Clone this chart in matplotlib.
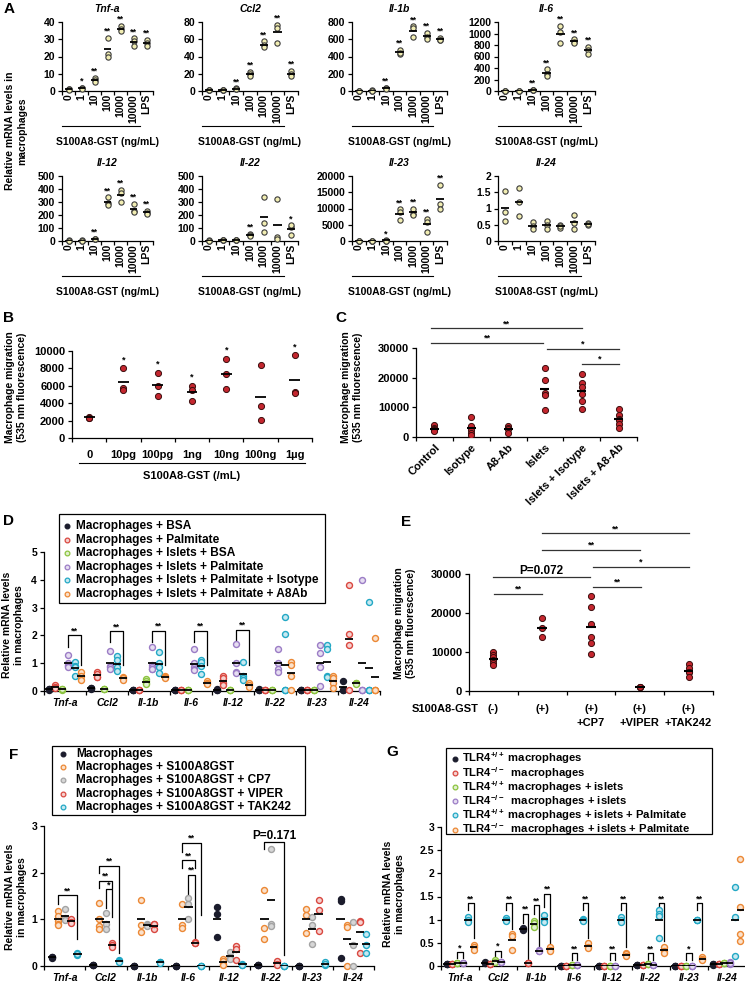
import matplotlib.pyplot as plt
import matplotlib.colors as mcolors
import matplotlib.transforms as mtransforms
from matplotlib.lines import Line2D
from matplotlib.patches import Rectangle
import numpy as np

plt.rcParams['font.family'] = ['Liberation Sans', 'DejaVu Sans']
plt.rcParams['font.weight'] = 'bold'
plt.rcParams['mathtext.fontset'] = 'custom'
plt.rcParams['mathtext.rm'] = 'Liberation Sans:bold'
plt.rcParams['mathtext.bf'] = 'Liberation Sans:bold'
plt.rcParams['mathtext.it'] = 'Liberation Sans:bold:italic'
plt.rcParams['axes.linewidth'] = 0.9

# ---------------- data ----------------
# A: relative mRNA vs S100A8-GST dose
a_doses = ['0', '1', '10', '100', '1000', '10000', 'LPS']
a_tnfa = [[1.2, 1.0, 0.8], [2.0, 1.5, 1.2], [7.6, 6.2, 5.5], [31, 21.5, 20],
          [37.9, 36, 34.5], [30.6, 28.7, 26.1], [29.5, 27.8, 25.8]]
a_ccl2 = [[1.2, 1.0, 0.8], [1.0, 0.6, 0.9], [3.0, 2.4, 2.0], [22.5, 20, 17.5],
          [57.4, 53.5, 50.7], [76.9, 73, 56.2], [23.4, 19.5, 17.2]]
a_il1b = [[5, 4, 3], [6, 4, 5], [38, 30, 24], [480, 430, 440],
          [749, 730, 624], [671, 624, 601], [613, 593, 596]]
a_il6 = [[5, 4, 3], [6, 4, 5], [18, 14, 12], [380, 293, 264],
         [1136, 1018, 843], [901, 860, 843], [773, 714, 644]]
a_il12 = [[4, 3, 2], [4, 3, 3], [18, 14, 12], [335, 289, 276],
          [392, 371, 302], [285, 230, 222], [230, 218, 210]]
a_il22 = [[4, 3, 2], [10, 8, 6], [10, 7, 5], [55, 45, 38],
          [335, 139, 70], [320, 30, 15], [110, 120, 44]]
a_il23 = [[100, 80, 60], [100, 80, 60], [200, 150, 120], [9700, 9000, 6400],
          [10000, 8450, 7900], [6900, 5900, 2800], [17200, 11500, 10000]]
a_il24 = [[1.53, 0.89, 0.62], [1.62, 1.21, 0.76], [0.6, 0.46, 0.36], [0.62, 0.5, 0.37],
          [0.5, 0.4, 0.45], [0.81, 0.55, 0.36], [0.55, 0.5, 0.52]]
sig_tnfa = ['', '*', '**', '**', '**', '**', '**']
sig_std = ['', '', '**', '**', '**', '**', '**']
sig_il22 = ['', '', '', '**', '', '', '*']
sig_il23 = ['', '', '*', '**', '**', '**', '**']
sig_none = [''] * 7

# B: migration vs S100A8-GST
b_doses = ['0', '10pg', '100pg', '1ng', '10ng', '100ng', '1\u00b5g']
b_vals = [[2450, 2350, 2300], [7990, 5700, 5510], [7490, 5970, 4830], [5970, 5510, 4300],
          [9130, 7300, 5590], [8400, 3650, 2050], [9510, 5320, 5130]]
b_sig = ['', '*', '*', '*', '*', '', '*']

# C: migration with islets / antibody
c_groups = ['Control', 'Isotype', 'A8-Ab', 'Islets', 'Islets + Isotype', 'Islets + A8-Ab']
c_vals = [[3900, 3200, 2800, 2300, 2000], [6700, 3600, 2500, 1500, 600],
          [3600, 3000, 2600, 1200], [23400, 19300, 15000, 14300, 9200],
          [21300, 18200, 16900, 14600, 12100, 9400], [9400, 7300, 6200, 5600, 4500, 3100]]

# genes shared by D, F, G
genes = ['Tnf-a', 'Ccl2', 'Il-1b', 'Il-6', 'Il-12', 'Il-22', 'Il-23', 'Il-24']

# D: co-culture with islets / palmitate
d_labels = ['Macrophages + BSA', 'Macrophages + Palmitate', 'Macrophages + Islets + BSA',
            'Macrophages + Islets + Palmitate', 'Macrophages + Islets + Palmitate + Isotype',
            'Macrophages + Islets + Palmitate + A8Ab']
d_bsa = [[0.06, 0.08, 0.05], [0.1, 0.12, 0.08], [0.04, 0.05, 0.03], [0.02, 0.03, 0.02],
         [0.05, 0.06, 0.04], [0.06, 0.05, 0.04], [0.02, 0.03, 0.02], [0.35, 0.05, 0.02]]
d_palm = [[0.2, 0.15, 0.1], [0.68, 0.6, 0.52, 0.5], [0.05, 0.04, 0.03], [0.03, 0.03, 0.02],
          [0.55, 0.45, 0.3, 0.2], [0.03, 0.02, 0.02], [0.03, 0.02, 0.02], [3.8, 2.05, 1.65, 0.02]]
d_isl = [[0.07, 0.05, 0.06], [0.08, 0.07, 0.06], [0.42, 0.36, 0.3, 0.25], [0.03, 0.03, 0.02],
         [0.02, 0.02, 0.02], [0.03, 0.02, 0.02], [0.02, 0.02, 0.02], [0.3, 0.27, 0.24]]
d_isl_palm = [[1.3, 1.0, 0.95, 0.9, 0.85], [1.45, 0.9, 0.85, 0.8], [1.6, 0.95, 0.85, 0.8, 0.8],
              [1.5, 1.0, 0.85, 0.8, 0.75], [1.7, 1.0, 0.7, 0.65], [1.5, 1.0, 0.8, 0.7],
              [1.65, 1.38, 0.87, 0.17], [4.0, 0.02, 0.02, 0.02]]
d_isotype = [[1.05, 0.9, 0.85, 0.55], [1.25, 1.1, 0.85, 0.72], [1.4, 1.0, 0.85, 0.65],
             [1.1, 1.05, 0.9, 0.6], [1.05, 0.55, 0.45, 0.4], [2.65, 2.05, 0.02, 0.02, 0.02],
             [1.65, 1.5, 0.55, 0.5], [3.2, 0.02, 0.02, 0.02]]
d_a8ab = [[0.7, 0.55, 0.4], [0.5, 0.45, 0.4], [0.55, 0.5, 0.45], [0.35, 0.3, 0.25],
          [0.28, 0.2, 0.15], [1.05, 0.95, 0.55, 0.02], [0.55, 0.45, 0.3, 0.1], [1.9, 0.02, 0.02, 0.02]]

# E: migration with inhibitors
e_groups = ['(-)', '(+)', '(+)\n+CP7', '(+)\n+VIPER', '(+)\n+TAK242']
e_vals = [[10000, 9200, 8600, 7900, 7300, 6700], [18700, 16200, 13800],
          [24300, 21600, 17200, 13800, 12200, 9500], [1100, 1000, 900],
          [6800, 5900, 5000, 4800, 3700]]

# F: S100A8-GST with inhibitors
f_labels = ['Macrophages', 'Macrophages + S100A8GST', 'Macrophages + S100A8GST + CP7',
            'Macrophages + S100A8GST + VIPER', 'Macrophages + S100A8GST + TAK242']
f_mac = [[0.2, 0.19, 0.18], [0.03, 0.02, 0.02], [0.01, 0.01, 0.01], [0.01, 0.01, 0.01],
         [1.27, 1.12, 0.62], [0.03, 0.02, 0.02], [0.01, 0.01, 0.01], [1.44, 1.4, 0.17]]
f_s100 = [[1.18, 1.08, 0.96, 0.9, 0.88], [1.36, 1.0, 0.86, 0.79], [1.41, 0.88, 0.72],
          [1.32, 0.88, 0.82], [0.15, 0.1, 0.05, 0.02], [1.63, 0.82, 0.57],
          [1.22, 1.1, 0.7], [0.88, 0.83, 0.01]]
f_cp7 = [[1.22, 1.02, 0.98], [1.14, 0.91, 0.8], [0.9, 0.88, 0.85], [1.45, 1.33, 1.0],
         [0.3, 0.2, 0.15], [2.5, 0.9, 0.86], [1.05, 0.88, 0.47], [0.95, 0.45, 0.01]]
f_viper = [[1.0, 0.95, 0.93], [0.5, 0.45, 0.41], [0.9, 0.8, 0.9], [0.51, 0.5, 0.49],
           [0.42, 0.36, 0.12], [0.1, 0.05, 0.03], [1.42, 1.2, 0.75], [0.97, 0.95, 0.28]]
f_tak = [[0.27, 0.23, 0.25], [0.12, 0.1, 0.09], [0.09, 0.08, 0.07], [0.01, 0.01, 0.01],
         [0.05, 0.02, 0.03], [0.01, 0.01, 0.01], [0.08, 0.02, 0.04], [0.68, 0.45, 0.27]]

# G: TLR4 wild type vs knockout
g_labels = ['TLR4$^{+/+}$ macrophages', 'TLR4$^{-/-}$  macrophages',
            'TLR4$^{+/+}$ macrophages + islets', 'TLR4$^{-/-}$  macrophages + islets',
            'TLR4$^{+/+}$ macrophages + islets + Palmitate',
            'TLR4$^{-/-}$  macrophages + islets + Palmitate']
g_wt = [[0.05, 0.04, 0.05], [0.07, 0.06, 0.08], [0.83, 0.8, 0.78], [0.01, 0.01, 0.01],
        [0.01, 0.01, 0.01], [0.02, 0.02, 0.02], [0.01, 0.01, 0.01], [0.04, 0.03, 0.04]]
g_ko = [[0.04, 0.04, 0.04], [0.05, 0.05, 0.05], [0.07, 0.07, 0.07], [0.01, 0.01, 0.01],
        [0.01, 0.01, 0.01], [0.02, 0.02, 0.02], [0.01, 0.01, 0.01], [0.05, 0.05, 0.05]]
g_wt_isl = [[0.06, 0.06, 0.06], [0.1, 0.12, 0.09], [0.98, 0.92, 0.85], [0.02, 0.02, 0.02],
            [0.01, 0.01, 0.01], [0.05, 0.05, 0.05], [0.01, 0.01, 0.01], [0.07, 0.07, 0.07]]
g_ko_isl = [[0.06, 0.06, 0.06], [0.08, 0.08, 0.08], [0.35, 0.33, 0.32], [0.02, 0.02, 0.02],
            [0.01, 0.01, 0.01], [0.03, 0.03, 0.03], [0.01, 0.01, 0.01], [0.08, 0.05, 0.06]]
g_wt_palm = [[1.05, 1.0, 0.95], [1.03, 1.0, 0.97], [1.1, 1.0, 0.95], [1.02, 1.0, 0.98],
             [1.05, 1.0, 0.95], [1.2, 1.12, 1.08, 0.6], [1.0, 1.0, 1.0], [1.7, 1.05, 0.22]]
g_ko_palm = [[0.45, 0.42, 0.35], [0.7, 0.65, 0.35], [0.4, 0.35, 0.33], [0.5, 0.42, 0.38],
             [0.27, 0.25, 0.22], [0.42, 0.32, 0.28], [0.2, 0.15, 0.12], [2.3, 1.27, 0.68, 0.55]]

# significance brackets: (gene, series left, series right, top, left leg end, right leg end, label)
d_brackets = [(0, 3, 5, 2.0, 1.6, 0.93, '**'), (1, 3, 5, 2.15, 1.75, 0.93, '**'),
              (2, 3, 5, 2.17, 1.75, 0.93, '**'), (3, 3, 5, 2.17, 1.75, 0.93, '**'),
              (4, 3, 5, 2.2, 1.85, 0.93, '**')]
f_brackets = [(0, 1, 4, 1.52, 1.33, 0.57, '**'), (1, 1, 4, 2.15, 2.0, 0.27, '**'),
              (1, 1, 3, 1.83, 1.68, 1.68, '**'), (1, 2, 3, 1.64, 1.25, 1.05, '*'),
              (3, 1, 4, 2.64, 2.45, 1.09, '**'), (3, 1, 3, 2.27, 2.1, 2.1, '**'),
              (3, 2, 3, 1.95, 1.55, 0.6, '**'), (5, 1, 4, 2.66, 2.5, 0.24, 'P=0.171')]
g_brackets = [(0, 2, 3, 0.3, 0.18, 0.18, '*'), (0, 4, 5, 1.35, 1.2, 0.6, '**'),
              (1, 2, 3, 0.33, 0.2, 0.2, '*'), (1, 4, 5, 1.35, 1.2, 0.8, '**'),
              (2, 0, 1, 1.13, 0.92, 0.13, '**'), (2, 2, 3, 1.31, 1.13, 0.42, '**'),
              (2, 4, 5, 1.56, 1.28, 0.5, '**'), (3, 2, 3, 0.27, 0.14, 0.14, '**'),
              (3, 4, 5, 1.35, 1.2, 0.6, '**'), (4, 2, 3, 0.27, 0.14, 0.14, '**'),
              (4, 4, 5, 1.35, 1.2, 0.4, '**'), (5, 2, 3, 0.27, 0.14, 0.14, '**'),
              (5, 4, 5, 1.35, 1.3, 0.55, '**'), (6, 2, 3, 0.27, 0.14, 0.14, '*'),
              (6, 4, 5, 1.35, 1.2, 0.35, '**')]

# ---------------- layout helpers (pixel coordinates) ----------------
W, H = 745, 985
fig = plt.figure(figsize=(W / 100, H / 100), dpi=100)


def add_ax(x0, y0, x1, y1):
    return fig.add_axes([x0 / W, 1 - y1 / H, (x1 - x0) / W, (y1 - y0) / H])


def ftext(x, y, s, **kw):
    kw.setdefault('ha', 'center')
    kw.setdefault('va', 'center')
    return fig.text(x / W, 1 - y / H, s, **kw)


def light(c, f=0.7):
    r, g, b = mcolors.to_rgb(c)
    return (r + (1 - r) * f, g + (1 - g) * f, b + (1 - b) * f)


def style(ax, fs=7.5):
    ax.spines['top'].set_visible(False)
    ax.spines['right'].set_visible(False)
    ax.tick_params(axis='y', direction='out', length=3, width=0.9, labelsize=fs, pad=2)
    ax.tick_params(axis='x', which='both', direction='out', width=0.9, labelsize=fs)


def cat_x(ax, labels, left=-0.5, **kw):
    n = len(labels)
    ax.set_xlim(left, n - 0.5)
    ax.set_xticks(range(n))
    ax.set_xticklabels(labels, **kw)
    ax.set_xticks(np.arange(-0.5, n), minor=True)
    ax.tick_params(axis='x', which='major', length=0)
    ax.tick_params(axis='x', which='minor', length=3)


def bracket(ax, x0, x1, top, b0, b1, label, fs=6.5):
    ax.plot([x0, x0, x1, x1], [b0, top, top, b1], color='black', lw=0.9, clip_on=False)
    ax.text((x0 + x1) / 2, top, label, ha='center', va='bottom', fontsize=fs)


def hline(ax, x0, x1, y, label, fs=6.5):
    ax.plot([x0, x1], [y, y], color='#333333', lw=0.9, clip_on=False)
    ax.text((x0 + x1) / 2, y, label, ha='center', va='bottom', fontsize=fs)


# ---------------- panel A ----------------
row1, row2 = (22, 91), (176, 241)
cols = [(62, 153), (202, 298), (352, 447), (498, 595)]
a_panels = [
    (cols[0], row1, 'Tnf-a', a_tnfa, sig_tnfa, 40, 10),
    (cols[1], row1, 'Ccl2', a_ccl2, sig_std, 80, 20),
    (cols[2], row1, 'Il-1b', a_il1b, sig_std, 800, 200),
    (cols[3], row1, 'Il-6', a_il6, sig_std, 1200, 200),
    (cols[0], row2, 'Il-12', a_il12, sig_std, 500, 100),
    (cols[1], row2, 'Il-22', a_il22, sig_il22, 500, 100),
    (cols[2], row2, 'Il-23', a_il23, sig_il23, 20000, 5000),
    (cols[3], row2, 'Il-24', a_il24, sig_none, 2, 0.5),
]
for (x0, x1), (y0, y1), title, vals, sig, ymax, step in a_panels:
    ax = add_ax(x0, y0, x1, y1)
    style(ax)
    for i, pts in enumerate(vals):
        ax.plot([i] * len(pts), pts, 'o', ms=3.8, mfc='#f1edb2', mec='#3a3a3a', mew=0.8,
                zorder=3, clip_on=False)
        ax.hlines(np.mean(pts), i - 0.3, i + 0.3, color='black', lw=1.3, zorder=4)
        if sig[i]:
            ax.annotate(sig[i], (i, max(pts)), xytext=(0, 1.5), textcoords='offset points',
                        ha='center', va='bottom', fontsize=6.5)
    cat_x(ax, a_doses, rotation=90)
    ax.tick_params(axis='x', which='major', pad=2)
    ax.set_ylim(0, ymax)
    ax.set_yticks(np.arange(0, ymax + step / 2, step))
    ax.yaxis.set_major_formatter('{x:g}')
    ftext((x0 + x1) / 2, y0 - 13, title, fontsize=7.5, style='italic')
    uy = y1 + 35
    tr = mtransforms.blended_transform_factory(ax.transData, fig.transFigure)
    ax.plot([-0.5, 5.5], [1 - uy / H] * 2, color='black', lw=0.8, transform=tr, clip_on=False)
    ftext((x0 + x1) / 2, uy + 16, 'S100A8-GST (ng/mL)', fontsize=7.5)

ftext(9, 9, 'A', fontsize=11)
ftext(16, 131, 'Relative mRNA levels in\nmacrophages', rotation=90, fontsize=7.5, linespacing=1.3)

# ---------------- panel B ----------------
ax = add_ax(72, 351, 312, 438)
style(ax, 8)
for i, pts in enumerate(b_vals):
    ax.plot([i] * len(pts), pts, 'o', ms=4.4, mfc='#c4262e', mec='#3b0d0d', mew=0.7, zorder=3)
    ax.hlines(np.mean(pts), i - 0.16, i + 0.16, color='black', lw=1.3, zorder=4)
    if b_sig[i]:
        ax.annotate(b_sig[i], (i, max(pts)), xytext=(0, 3), textcoords='offset points',
                    ha='center', va='bottom', fontsize=6.5)
cat_x(ax, b_doses)
ax.tick_params(axis='x', which='major', pad=9, labelsize=8)
ax.set_ylim(0, 10000)
ax.set_yticks(np.arange(0, 10001, 2000))
tr = mtransforms.blended_transform_factory(ax.transData, fig.transFigure)
ax.plot([-0.3, 6.3], [1 - 463 / H] * 2, color='black', lw=0.8, transform=tr, clip_on=False)
ftext(192, 476, 'S100A8-GST (/mL)', fontsize=8)
ftext(9, 318, 'B', fontsize=11)
ftext(16, 387, 'Macrophage migration\n(535 nm fluorescence)', rotation=90, fontsize=7.5,
      linespacing=1.3)

# ---------------- panel C ----------------
ax = add_ax(416, 348, 637, 437)
style(ax, 8)
for i, pts in enumerate(c_vals):
    ax.plot([i] * len(pts), pts, 'o', ms=4.4, mfc='#c4262e', mec='#3b0d0d', mew=0.7, zorder=3)
    ax.hlines(np.mean(pts), i - 0.12, i + 0.12, color='black', lw=1.5, zorder=4)
cat_x(ax, c_groups, left=-0.46, rotation=45, ha='right', rotation_mode='anchor')
ax.tick_params(axis='x', which='major', labelsize=8, pad=4)
ax.set_ylim(0, 30000)
ax.set_yticks([0, 10000, 20000, 30000])
hline(ax, -0.08, 4.0, 36700, '**')
hline(ax, -0.08, 2.95, 31700, '**')
hline(ax, 3.05, 5.0, 29700, '*')
hline(ax, 4.0, 5.0, 24600, '*')
ftext(341, 318, 'C', fontsize=11)
ftext(352, 387, 'Macrophage migration\n(535 nm fluorescence)', rotation=90, fontsize=7.5,
      linespacing=1.3)

# ---------------- grouped mRNA panels (D, F, G) ----------------
pal = {'black': '#1b1c2c', 'red': '#d9473f', 'green': '#8cc43f', 'purple': '#9b7cc6',
       'cyan': '#22a8c5', 'orange': '#ec8834', 'gray': '#a3a3a3'}


def face(c):
    return pal[c] if c == 'black' else light(pal[c], 0.55 if c == 'gray' else 0.75)


def group_panel(ax, series, colors, spacing, dash):
    n = len(series)
    for s, (vals, c) in enumerate(zip(series, colors)):
        off = (s - (n - 1) / 2) * spacing
        for g, pts in enumerate(vals):
            x = g + off
            ax.plot([x] * len(pts), pts, 'o', ms=4.3, mfc=face(c), mec=pal[c], mew=1.0,
                    zorder=3, clip_on=False)
            ax.hlines(np.mean(pts), x - dash, x + dash, color='black', lw=1.3, zorder=4)
    cat_x(ax, genes, style='italic')
    ax.tick_params(axis='x', which='major', pad=5, labelsize=7.5)
    return lambda s: (s - (n - 1) / 2) * spacing


def legend_box(labels, colors, box, mx, tx, y_first, dy, fs=8.6):
    x0, y0, x1, y1 = box
    fig.add_artist(Rectangle((x0 / W, 1 - y1 / H), (x1 - x0) / W, (y1 - y0) / H,
                             transform=fig.transFigure, facecolor='white',
                             edgecolor='black', lw=0.9, zorder=5))
    for i, (lab, c) in enumerate(zip(labels, colors)):
        y = y_first + i * dy
        fig.add_artist(Line2D([mx / W], [1 - y / H], transform=fig.transFigure, ls='none',
                              marker='o', ms=3.4, mfc=face(c), mec=pal[c], mew=0.9, zorder=6))
        ftext(tx, y, lab, ha='left', fontsize=fs, zorder=6)


# D
ax = add_ax(44, 552, 380, 691)
style(ax)
d_colors = ['black', 'red', 'green', 'purple', 'cyan', 'orange']
off = group_panel(ax, [d_bsa, d_palm, d_isl, d_isl_palm, d_isotype, d_a8ab], d_colors, 0.155, 0.1)
ax.set_ylim(0, 5)
ax.set_yticks(range(6))
for g, s0, s1, top, b0, b1, lab in d_brackets:
    bracket(ax, g + off(s0), g + off(s1), top, b0, b1, lab)
legend_box(d_labels, d_colors, (59, 514, 325, 603), 67, 76, 526, 13.6)
ftext(9, 521, 'D', fontsize=11)
ftext(13, 625, 'Relative mRNA levels\nin macrophages', rotation=90, fontsize=7.5,
      linespacing=1.3)

# ---------------- panel E ----------------
ax = add_ax(469, 574, 713, 691)
style(ax, 8)
for i, pts in enumerate(e_vals):
    ax.plot([i] * len(pts), pts, 'o', ms=4.4, mfc='#c4262e', mec='#3b0d0d', mew=0.7, zorder=3)
    ax.hlines(np.mean(pts), i - 0.1, i + 0.1, color='black', lw=1.5, zorder=4)
cat_x(ax, e_groups, va='top', linespacing=1.6)
ax.tick_params(axis='x', which='major', pad=9, labelsize=8)
ax.set_ylim(0, 30000)
ax.set_yticks([0, 10000, 20000, 30000])
hline(ax, 1, 4, 40500, '**')
hline(ax, 1, 3, 36150, '**')
hline(ax, 2.05, 4, 31800, '*')
hline(ax, 0, 1.97, 29230, 'P=0.072', fs=8.5)
hline(ax, 2.05, 3.02, 26670, '**')
hline(ax, 0.02, 1.0, 24870, '**')
ftext(445, 709, 'S100A8-GST', fontsize=8)
ftext(406, 522, 'E', fontsize=11)
ftext(405, 623, 'Macrophage migration\n(535 nm fluorescence)', rotation=90, fontsize=7.5,
      linespacing=1.3)

# ---------------- panel F ----------------
ax = add_ax(44, 826, 374, 966)
style(ax)
f_colors = ['black', 'orange', 'gray', 'red', 'cyan']
off = group_panel(ax, [f_mac, f_s100, f_cp7, f_viper, f_tak], f_colors, 0.155, 0.1)
ax.set_ylim(0, 3)
ax.set_yticks(range(4))
for g, s0, s1, top, b0, b1, lab in f_brackets:
    bracket(ax, g + off(s0), g + off(s1), top, b0, b1, lab, fs=8.5 if lab.startswith('P') else 6.5)
legend_box(f_labels, f_colors, (52, 746, 305, 815), 63, 76, 753.5, 13.4)
ftext(14, 755, 'F', fontsize=11)
ftext(16, 897, 'Relative mRNA levels\nin macrophages', rotation=90, fontsize=7.5,
      linespacing=1.3)

# ---------------- panel G ----------------
ax = add_ax(441, 827, 746, 966)
style(ax)
g_colors = ['black', 'red', 'green', 'purple', 'cyan', 'orange']
off = group_panel(ax, [g_wt, g_ko, g_wt_isl, g_ko_isl, g_wt_palm, g_ko_palm], g_colors, 0.142, 0.1)
ax.set_ylim(0, 3)
ax.set_yticks(np.arange(0, 3.01, 0.5))
ax.yaxis.set_major_formatter('{x:g}')
for g, s0, s1, top, b0, b1, lab in g_brackets:
    bracket(ax, g + off(s0), g + off(s1), top, b0, b1, lab)
legend_box(g_labels, g_colors, (446, 748, 712, 834), 455, 462, 758.5, 14.2, fs=8.1)
ftext(392, 752, 'G', fontsize=11)
ftext(394, 894, 'Relative mRNA levels\nin macrophages', rotation=90, fontsize=7.5,
      linespacing=1.3)

fig.savefig('out.png', dpi=100)
